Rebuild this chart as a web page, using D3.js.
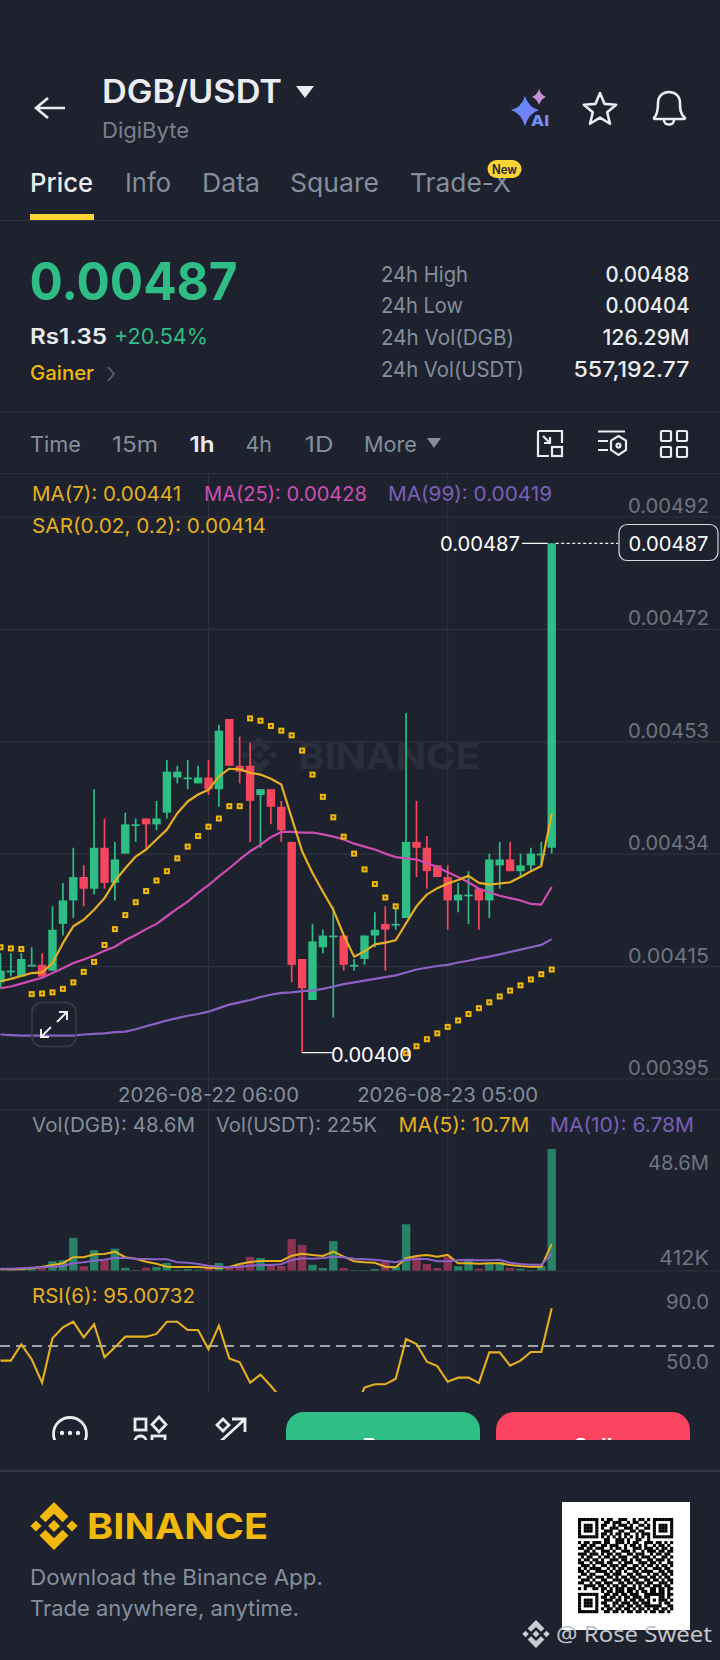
<!DOCTYPE html>
<html><head><meta charset="utf-8">
<script src="https://cdn.jsdelivr.net/npm/d3@7"></script>
<style>html,body{margin:0;padding:0;background:#1e222e;overflow:hidden}svg{display:block}text{font-family:Inter,"Noto Sans",sans-serif}</style>
</head><body><div id="c"></div>
<script>
// Prices are in units of 0.00001
const opens =[412,414,413,415,415,414,422,426,430,428,435,429,434,439,440,439,441,447,447,446,447,445,457,449,449,444,445,442,436,416,409,418,420,420,415,416,420,422,422,423,436,435,432,430,426,427,428,426,432,433,431,432,434,435];
const highs =[417,417,417,418,417,425,429,435,432,445,440,436,441,440,440,443,450,449,450,449,450,456,457,454,453,445,445,443,436,416,422,421,425,420,416,420,424,425,425,458,443,437,432,432,429,431,428,434,436,436,434,435,436,487];
const lows  =[411,413,413,415,413,414,420,423,425,427,428,426,434,436,435,438,440,446,445,446,444,442,449,446,436,435,439,436,412,400,409,417,406,414,414,415,418,414,421,423,430,428,430,421,424,422,421,423,428,431,430,431,432,434];
const closes=[414,414,416,415,413,421,426,430,428,435,429,433,439,439,439,440,448,448,447,447,445,455,449,448,443,445,442,438,415,411,419,420,420,415,415,420,421,421,422,436,435,431,430,426,427,427,426,433,433,431,432,434,434,487];
const ma7 =[412.2,412.6,413.1,413.6,413.7,415.3,418.7,421.6,422.7,424.4,426.4,429.3,431.5,433.5,434.7,436.4,438.1,440.9,442.9,444.1,444.9,447.2,448.5,448.4,447.8,447.5,446.8,445.8,440.1,434.4,430.7,427.5,424.4,420.1,416.4,417.3,418.5,418.8,419.2,422.1,425,427,428.1,428.9,429.5,430.2,429,428.7,428.9,429.1,430,431,431.9,440.8];
const ma25=[411,411.3,411.8,412.3,412.8,413.6,414.4,415.3,415.9,416.6,417.4,418.1,419.2,420.1,421.1,422,423.3,424.6,425.8,427.3,428.6,430.1,431.5,433,434.4,435.5,436.8,437.7,437.7,437.6,437.6,437.3,436.9,436.4,435.7,435.2,434.7,434,433.4,433.2,433,432.4,431.7,430.8,430,429.1,428,427.4,426.8,426.4,426,425.4,425.3,428.3];
const ma99=[403.1,403,402.9,402.9,402.9,402.9,402.9,402.9,403.1,403.2,403.3,403.5,403.6,404,404.5,405,405.5,405.9,406.3,406.6,407,407.6,408.2,408.6,409,409.5,409.9,410.2,410.3,410.5,410.6,410.9,411.3,411.7,412,412.3,412.6,412.9,413.2,413.7,414.2,414.5,414.8,415,415.4,415.7,416.1,416.4,416.8,417.2,417.6,418,418.4,419.4];
const sar =[418,417.8,417.7,410,410.1,410.3,410.9,412,413.8,415.5,418.4,421.1,423.5,425.7,427.6,429.4,431,433.2,435.2,437,438.6,440,442.1,442.1,457.1,456.7,455.8,455,454.2,451.6,447.5,443.7,440.2,436.9,434,431.3,428.8,426.5,425,399.9,401.1,402.3,403.3,404.4,405.5,406.6,407.6,408.6,409.6,410.6,411.5,412.5,413.4,414.2];
// Volumes in millions of DGB
const volumes=[.4,.4,.9,1.1,1.6,3.9,4.3,13.2,1.9,8.3,4.3,8.9,1.3,.3,1.3,1.6,3.2,.5,.8,.5,1.2,3.2,1.2,2.9,5.6,5.2,2.9,2,12.7,10.4,2.5,1.2,11.9,1.2,.3,.3,.8,4.3,1.9,18.6,5.6,2.8,1.2,5.6,1.9,4.9,.9,2.9,3.6,1.2,.9,.4,1.9,48.6];
const volMa5 =[.8,.5,.8,1.1,1.7,2.4,3.1,5.5,5.5,6.7,6.8,7.7,5.5,4.9,3.7,2.9,1.7,1.6,1.6,1.6,1.3,1.2,1.6,2.8,3.6,4,4,4,6.1,6.9,6.4,6,7.7,5.7,3.9,3.5,3.3,1.7,1.5,5.1,6,6.4,5.7,6.4,3.1,3.1,2.9,3.1,3.1,2.4,2,1.7,1.7,10.7];
const volMa10=[.9,.9,1.1,1.3,1.5,1.7,2,3.1,3.5,4.1,4.5,5.3,5.2,4.9,4.8,4.7,4.7,3.5,3.3,2.8,2.1,1.7,1.5,1.7,2.1,2.4,2.4,2.7,4.4,5.1,4.9,5.2,5.7,5.5,4.9,4.7,4.5,4,3.5,4.5,4.8,4.8,3.9,3.9,4.3,4.4,4.3,4.3,4.5,3.3,2.8,2.5,2.5,6.78];
const rsi6=[60.3,60.3,71.1,61.2,45.7,75.1,82.4,86.1,75.7,84.4,62.5,69.1,76.2,76.2,76.2,78,86.1,86.1,80.6,80.6,67.8,83.5,61.8,59.2,45.7,51,43.5,35.3,12,10,30,33,33,22,26,42.4,44.6,44.6,48.3,74.6,71.3,59.6,56.7,46.3,49,49,45.5,65.8,65.8,57,60.3,66,66,95];
const priceTicks=[491.5,472.3,453.1,433.9,414.7,395.5];
const priceTickLabels=["0.00492","0.00472","0.00453","0.00434","0.00415","0.00395"];
const timeTicks=[20,43];
const timeTickLabels=["2026-08-22 06:00","2026-08-23 05:00"];
const qrRows=[
"1111111 0 10110011100101101 0 1111111","1000001 0 01101110010110010 0 1000001","1011101 0 11001011101001101 0 1011101","1011101 0 10011100111010011 0 1011101","1011101 0 01110011001101100 0 1011101","1000001 0 11010110110010111 0 1000001","1111111 0 10101010101010101 0 1111111","0000000 0 01100111010011001 0 0000000",
"101101110110011101011001110110101","011011001101110010110101001011010","110110111001011010011101110101101","001101001110100111010010111011011","111011101011011001101110010110110","010110010110101110011011101001101","101101101001110110101100110111010","110010111011001011100111011010011","011101001101110110011010110101101","101011110010101101110101001110110","110100111101011010011011110011011","011011000110111001101100101101101","100110111011010110110111011010110","011101001100111011011001101101011","110010110111001101101110110011101","001111011010110110010101101110110","101001101101011101110110011011011",
"0000000 0 1011011101101011011011010","1111111 0 0110110110111001111111011","1000001 0 1101101011011101100011010","1011101 0 0111011010110110101011101","1011101 0 1100110111011011100010110","1011101 0 0110101101101101111110011","1000001 0 1011011011010110101101101","1111111 0 0110110101101101011011010"];

const BG="#1e222e",GREEN="#2EBD85",RED="#F6465D",GRID="#2d323d",GRAY="#848E9C",DIM="#6e7480",YEL="#E5B01F",PINK="#CF4DB2",PUR="#8A62C6";
const svg=d3.select("#c").append("svg").attr("width",720).attr("height",1660).attr("viewBox","0 0 720 1660");
svg.append("rect").attr("width",720).attr("height",1660).attr("fill",BG);
const defs=svg.append("defs");
defs.append("clipPath").attr("id","rsiClip").append("rect").attr("x",0).attr("y",1280).attr("width",720).attr("height",112);
defs.append("clipPath").attr("id","barClip").append("rect").attr("x",0).attr("y",1400).attr("width",720).attr("height",40);

function t(p,s,x,y,size,color,o={}){
  const e=p.append("text").text(s).attr("x",x).attr("y",y).attr("font-size",size).attr("fill",color)
    .attr("font-weight",o.weight||400).attr("text-anchor",o.anchor||"start");
  if(o.w)e.attr("textLength",o.w).attr("lengthAdjust","spacingAndGlyphs");
  if(o.font)e.style("font-family",o.font);
  return e;
}
function hline(y,color=GRID,w=1){svg.append("line").attr("x1",0).attr("x2",720).attr("y1",y).attr("y2",y).attr("stroke",color).attr("stroke-width",w);}
function logo(p,cx,cy,s,color,opacity=1){
  const g=p.append("g").attr("transform",`translate(${cx},${cy}) scale(${s})`).attr("fill",color).attr("opacity",opacity);
  const poly=a=>g.append("polygon").attr("points",a.map(q=>q.join(",")).join(" "));
  poly([[0,-24],[14.5,-9.5],[8.6,-3.8],[0,-12.2],[-8.6,-3.8],[-14.5,-9.5]]);
  poly([[0,24],[14.5,9.5],[8.6,3.8],[0,12.2],[-8.6,3.8],[-14.5,9.5]]);
  poly([[0,-6],[6,0],[0,6],[-6,0]]);
  poly([[-18,-5.6],[-12.4,0],[-18,5.6],[-23.6,0]]);
  poly([[18,-5.6],[23.6,0],[18,5.6],[12.4,0]]);
}

// ---------- header ----------
svg.append("path").attr("d","M65 108H37M48 98L36 108L48 118").attr("fill","none").attr("stroke","#EAECEF").attr("stroke-width",2.6);
t(svg,"DGB/USDT",102,103,32,"#EAECEF",{weight:600,w:180});
svg.append("polygon").attr("points","296,86 314,86 305,98").attr("fill","#EAECEF");
t(svg,"DigiByte",102,138,22,"#7b818c",{w:87});
// AI sparkle
const aiGrad=defs.append("linearGradient").attr("id","ai").attr("x1","0").attr("y1","0").attr("x2","1").attr("y2","1");
aiGrad.append("stop").attr("offset","0").attr("stop-color","#4f8dfb");aiGrad.append("stop").attr("offset","1").attr("stop-color","#8a7bf5");
svg.append("path").attr("d","M525 96Q529 108 539 110Q529 113 525 126Q521 113 511 110Q521 108 525 96Z").attr("fill","url(#ai)");
svg.append("path").attr("d","M539 89Q541 95 546 97Q541 99 539 105Q537 99 532 97Q537 95 539 89Z").attr("fill","#c58fd6");
t(svg,"AI",531,126,15,"#7a8ff5",{weight:800,w:18});
// favourite star
const starPts=d3.range(10).map(i=>{const r=i%2?7.6:17,a=-Math.PI/2+i*Math.PI/5;return [600+r*Math.cos(a),110+r*Math.sin(a)].join(",");}).join(" ");
svg.append("polygon").attr("points",starPts).attr("fill","none").attr("stroke","#EAECEF").attr("stroke-width",2.6).attr("stroke-linejoin","round");
// bell
svg.append("path").attr("d","M654 118C658 114 658 108 658 103C658 96 663 92 669 92C675 92 680 96 680 103C680 108 680 114 685 118C685 119 684 119 683 119H655C654 119 654 119 654 118ZM664 120C664 126 674 126 674 120").attr("fill","none").attr("stroke","#EAECEF").attr("stroke-width",2.6);
// tabs
t(svg,"Price",30,192,26,"#EAECEF",{weight:500,w:63});
t(svg,"Info",125,192,26,GRAY,{w:46});
t(svg,"Data",202,192,26,GRAY,{w:58});
t(svg,"Square",290,192,26,GRAY,{w:89});
t(svg,"Trade-X",410,192,26,GRAY,{w:101});
svg.append("rect").attr("x",487.5).attr("y",160).attr("width",34).attr("height",18).attr("rx",9).attr("fill","#FCD535");
t(svg,"New",504.5,174,12.5,"#1e222e",{weight:600,anchor:"middle",w:25});
hline(220.5);
svg.append("rect").attr("x",30).attr("y",214).attr("width",64).attr("height",6).attr("fill","#FCD535");
// price block
t(svg,"0.00487",29.5,300,52,GREEN,{weight:700,w:208});
t(svg,"Rs1.35",30,344,22,"#EAECEF",{weight:600,w:77});
t(svg,"+20.54%",114,344,22,GREEN,{w:94});
t(svg,"Gainer",30,380,20,"#F0B90B",{weight:500,w:64});
svg.append("path").attr("d","M108 367L114 374L108 381").attr("fill","none").attr("stroke","#5f6570").attr("stroke-width",1.6);
const statLabels=["24h High","24h Low","24h Vol(DGB)","24h Vol(USDT)"],statWidths=[87,82,133,143];
const statValues=["0.00488","0.00404","126.29M","557,192.77"],statValueWidths=[84,84,87,116];
const statBase=[282,313,345,377];
statLabels.forEach((s,i)=>{t(svg,s,381,statBase[i],21,GRAY,{w:statWidths[i]});t(svg,statValues[i],689.5,statBase[i],21,"#EAECEF",{weight:500,anchor:"end",w:statValueWidths[i]});});
hline(412);
// interval row
[["Time",30,51],["15m",112,46],["1h",189.5,25],["4h",245.5,26.5],["1D",304.5,29],["More",364,53]].forEach(([s,x,w])=>{
  const on=s==="1h";t(svg,s,x,452,22,on?"#EAECEF":GRAY,{w,weight:on?600:400});
});
svg.append("polygon").attr("points","427,438 441,438 434,448").attr("fill",GRAY);
const icons=svg.append("g").attr("fill","none").attr("stroke","#EAECEF").attr("stroke-width",2.2);
icons.append("path").attr("d","M538 431H562V443M538 431V456H549M543 436L550 443M550 437V443H544");
icons.append("rect").attr("x",552).attr("y",447).attr("width",10).attr("height",9);
icons.append("path").attr("d","M598 431.5H625M598 441H608M598 450H608M618.5 436L626 440.5V450L618.5 455L611 450V440.5Z");
icons.append("circle").attr("cx",618.5).attr("cy",445.5).attr("r",2);
[[661,431],[677,431],[661,447],[677,447]].forEach(([x,y])=>icons.append("rect").attr("x",x).attr("y",y).attr("width",10).attr("height",10).attr("rx",1));
hline(473.5);

// ---------- scales ----------
const n=closes.length;
const x=d3.scaleLinear().domain([0,n-1]).range([0.5,551.7]);
const y=d3.scaleLinear().domain([491.5,395.5]).range([517,1079]);
const yVol=d3.scaleLinear().domain([0,48.6]).range([1271,1149]);
const yRsi=d3.scaleLinear().domain([70,95]).range([1346,1308.3]);

// ---------- grid + axes ----------
timeTicks.forEach(i=>svg.append("line").attr("x1",x(i)).attr("x2",x(i)).attr("y1",473).attr("y2",1392).attr("stroke",GRID).attr("stroke-width",1.2));
svg.append("g").selectAll("line").data(priceTicks).join("line").attr("x1",0).attr("x2",720).attr("y1",d=>y(d)).attr("y2",d=>y(d)).attr("stroke",GRID).attr("stroke-width",1.2);
const yAxis=svg.append("g").attr("transform","translate(709,0)").call(d3.axisLeft(y).tickValues(priceTicks).tickSize(0).tickPadding(0).tickFormat((d,i)=>priceTickLabels[i]));
yAxis.select(".domain").remove();
yAxis.selectAll("text").attr("font-size",20).attr("fill",DIM).attr("dy",-4.5).attr("dominant-baseline","auto").attr("y",0).attr("textLength",81).attr("lengthAdjust","spacingAndGlyphs").style("font-family",'Inter,"Noto Sans",sans-serif');
const xAxis=svg.append("g").attr("transform","translate(0,1102)").call(d3.axisBottom(x).tickValues(timeTicks).tickSize(0).tickPadding(0).tickFormat((d,i)=>timeTickLabels[i]));
xAxis.select(".domain").remove();
xAxis.selectAll("text").attr("x",-0.5).attr("y",0).attr("dy",0).attr("font-size",20).attr("fill",GRAY).attr("textLength",181).attr("lengthAdjust","spacingAndGlyphs").style("font-family",'Inter,"Noto Sans",sans-serif');
hline(1110);

// chart watermark
logo(svg,259,755,0.78,"#2a2f3b");
t(svg,"BINANCE",298,769,36,"#2a2f3b",{weight:700,w:182});

// ---------- candles ----------
const idx=d3.range(n);
const bodyW=8.4;
const up=i=>closes[i]>=opens[i];
svg.append("g").selectAll("line").data(idx).join("line").attr("x1",i=>x(i)).attr("x2",i=>x(i)).attr("y1",i=>y(highs[i])).attr("y2",i=>y(lows[i])).attr("stroke",i=>up(i)?GREEN:RED).attr("stroke-width",1.7);
svg.append("g").selectAll("rect").data(idx).join("rect").attr("x",i=>x(i)-bodyW/2).attr("width",bodyW)
  .attr("y",i=>y(Math.max(opens[i],closes[i]))).attr("height",i=>Math.max(1.7,Math.abs(y(opens[i])-y(closes[i])))).attr("fill",i=>up(i)?GREEN:RED);

// ---------- moving averages ----------
const line=(sc)=>d3.line().x((d,i)=>x(i)).y(d=>sc(d));
[[ma99,PUR],[ma25,PINK],[ma7,YEL]].forEach(([a,c])=>svg.append("path").attr("d",line(y)(a)).attr("fill","none").attr("stroke",c).attr("stroke-width",2.2).attr("stroke-linejoin","round"));
// ---------- SAR ----------
svg.append("g").selectAll("rect").data(sar).join("rect").attr("x",(d,i)=>x(i)-2).attr("y",d=>y(d)-2).attr("width",4).attr("height",4).attr("fill","#4a3e18").attr("stroke","#F0B90B").attr("stroke-width",2);

// legends
t(svg,"MA(7): 0.00441",32,501,20,YEL,{w:149});
t(svg,"MA(25): 0.00428",204,501,20,PINK,{w:163});
t(svg,"MA(99): 0.00419",388,501,20,"#7a5fb8",{w:164});
t(svg,"SAR(0.02, 0.2): 0.00414",32,533,20,YEL,{w:234});

// high / low markers
const last=n-1,lowI=closes.indexOf(411),high=closes[last];
t(svg,"0.00487",520,551,20,"#fff",{anchor:"end",w:80});
svg.append("line").attr("x1",522).attr("x2",x(last)-4).attr("y1",y(high)).attr("y2",y(high)).attr("stroke","#fff").attr("stroke-width",1.2);
svg.append("line").attr("x1",x(last)+4).attr("x2",618).attr("y1",y(high)).attr("y2",y(high)).attr("stroke","#fff").attr("stroke-width",1.2).attr("stroke-dasharray","3 2.5");
svg.append("rect").attr("x",619).attr("y",524.5).attr("width",99).attr("height",36).attr("rx",8).attr("fill",BG).attr("stroke","#d9dbe0").attr("stroke-width",1.2);
t(svg,"0.00487",668.5,551,20,"#fff",{anchor:"middle",w:80});
svg.append("line").attr("x1",x(lowI)).attr("x2",332).attr("y1",y(lows[lowI])).attr("y2",y(lows[lowI])).attr("stroke","#fff").attr("stroke-width",1.2);
t(svg,"0.00400",331,1062,20,"#fff",{w:81});

// expand button
svg.append("rect").attr("x",32).attr("y",1002.5).attr("width",44).attr("height",44).attr("rx",10).attr("fill","none").attr("stroke","#373c48").attr("stroke-width",1.6);
svg.append("path").attr("d","M41 1037L51 1027M41 1029V1037H49M67 1012L57 1022M59 1012H67V1020").attr("fill","none").attr("stroke","#EAECEF").attr("stroke-width",2);

// ---------- volume ----------
t(svg,"Vol(DGB): 48.6M",32,1132,20,GRAY,{w:163});
t(svg,"Vol(USDT): 225K",216,1132,20,GRAY,{w:161});
t(svg,"MA(5): 10.7M",398.5,1132,20,YEL,{w:131});
t(svg,"MA(10): 6.78M",550,1132,20,"#7a5fb8",{w:144});
svg.append("g").selectAll("rect").data(idx).join("rect").attr("x",i=>x(i)-4.2).attr("width",8.4).attr("y",i=>yVol(volumes[i])).attr("height",i=>yVol(0)-yVol(volumes[i])).attr("fill",i=>up(i)?"#278266":"#8b3350");
[[volMa5,"#E5B01F"],[volMa10,PUR]].forEach(([a,c])=>svg.append("path").attr("d",line(yVol)(a)).attr("fill","none").attr("stroke",c).attr("stroke-width",2));
t(svg,"48.6M",709,1170,20,DIM,{anchor:"end",w:61});
t(svg,"412K",709,1265,20,DIM,{anchor:"end",w:50});
hline(1271);

// ---------- RSI ----------
t(svg,"RSI(6): 95.00732",32,1303,20,YEL,{w:163});
t(svg,"90.0",709,1309,20,DIM,{anchor:"end",w:43});
t(svg,"50.0",709,1369,20,DIM,{anchor:"end",w:43});
svg.append("line").attr("x1",0).attr("x2",720).attr("y1",yRsi(70)).attr("y2",yRsi(70)).attr("stroke","#9da2ab").attr("stroke-width",2.2).attr("stroke-dasharray","10 6");
svg.append("path").attr("clip-path","url(#rsiClip)").attr("d",line(yRsi)(rsi6)).attr("fill","none").attr("stroke",YEL).attr("stroke-width",2.1);

// ---------- action bar (cut off by the screenshot) ----------
const bar=svg.append("g").attr("clip-path","url(#barClip)");
const bi=bar.append("g").attr("fill","none").attr("stroke","#EAECEF").attr("stroke-width",2.8);
bi.append("circle").attr("cx",70).attr("cy",1434).attr("r",16.5);
bar.append("g").attr("fill","#EAECEF").selectAll("circle").data([62,70,78]).join("circle").attr("cx",d=>d).attr("cy",1433).attr("r",2.2);
bi.append("rect").attr("x",135).attr("y",1419).attr("width",11).attr("height",11);
bi.append("polygon").attr("points","159,1417 166,1424.5 159,1432 152,1424.5");
bi.append("rect").attr("x",135).attr("y",1436).attr("width",11).attr("height",11).attr("rx",5);
bi.append("rect").attr("x",152).attr("y",1436).attr("width",13).attr("height",11);
bi.append("path").attr("d","M221 1441L244 1420M232 1419H245V1432");
bi.append("polygon").attr("points","223,1419 229,1425 223,1431 217,1425");
bar.append("rect").attr("x",286).attr("y",1412).attr("width",194).attr("height",60).attr("rx",18).attr("fill","#2fbf86");
bar.append("rect").attr("x",496).attr("y",1412).attr("width",194).attr("height",60).attr("rx",18).attr("fill","#FB4560");
t(bar,"Buy",383,1454,22,"#fff",{weight:600,anchor:"middle"});
t(bar,"Sell",593,1454,22,"#fff",{weight:600,anchor:"middle"});

// ---------- footer ----------
hline(1471,"#343945",1.8);
logo(svg,54,1526,1,"#F0B90B");
t(svg,"BINANCE",87,1539,36,"#F0B90B",{weight:700,w:181});
t(svg,"Download the Binance App.",30,1585,22,GRAY,{w:293});
t(svg,"Trade anywhere, anytime.",30,1616,22,GRAY,{w:269});
svg.append("rect").attr("x",562).attr("y",1502).attr("width",128).attr("height",128).attr("fill","#fff");
const rows=qrRows.map(r=>r.replace(/ /g,""));
const qx=d3.scaleLinear().domain([0,33]).range([578,673]),qy=d3.scaleLinear().domain([0,33]).range([1518,1613]);
const qrCells=[];rows.forEach((r,j)=>[...r].forEach((c,i)=>{if(c==="1")qrCells.push([i,j]);}));
svg.append("g").selectAll("rect").data(qrCells).join("rect").attr("x",d=>qx(d[0])).attr("y",d=>qy(d[1])).attr("width",qx(1)-qx(0)+.2).attr("height",qy(1)-qy(0)+.2).attr("fill","#000");
logo(svg,536,1634,0.58,"#c9ccd2");
t(svg,"@ Rose Sweet",556,1642,22,"#c2c5cb",{w:156,font:'"Noto Sans",sans-serif'});
</script></body></html>
